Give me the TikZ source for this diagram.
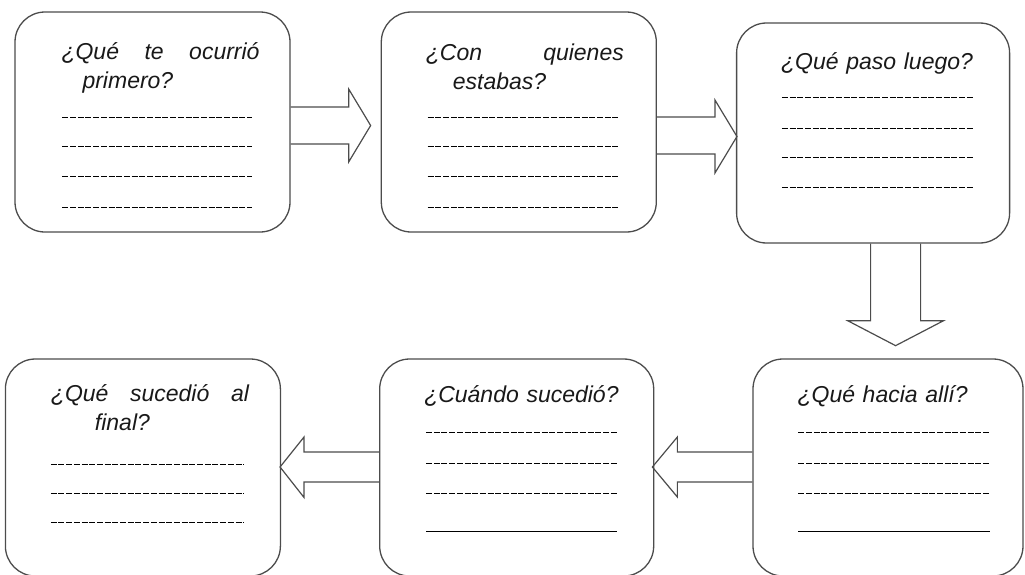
\documentclass[tikz,border=0pt]{standalone}
\usepackage{fontspec}
\setmainfont{Liberation Sans}
\usetikzlibrary{calc,positioning}
\tikzset{
	every node/.style={
		font=\fontsize{23}{29}\selectfont\itshape
	},
	caja/.style={
		shape=rectangle,
		minimum width=275pt,
		minimum height=220pt,
		rounded corners=30pt,
		draw=black!70,
		line width=1.3pt,
		inner sep=0pt
	},
	titulo/.style={
		anchor=base west,
		text width=198pt,
		align=left,
		inner sep=0pt,
		text=black!90
	},
	renglon/.style={
		line width=1.5pt,
		dash pattern=on 6pt off 1.7pt
	},
	linea/.style={line width=1.5pt},
	flecha/.style={
		draw=black!70,
		line width=1.2pt,
		line join=miter
	}
}

\begin{document}
\begin{tikzpicture}[x=1pt,y=-1pt]
	\useasboundingbox (0,0) rectangle (1025,574);
	
	% Fila de arriba
	\node[caja]                         (b1) at (152.5,122)       {};
	\node[caja] [right=90pt of b1]                                  (b2) {};
	\node[caja, minimum width=273pt] [right=79pt of b2, yshift=-11pt] (b3) {};
	
	% Fila de abajo
	\node[caja, minimum width=270pt, minimum height=217pt] (b6) at (888,467.5) {};
	\node[caja, minimum width=274pt, minimum height=217pt] [left=98pt of b6] (b5) {};
	\node[caja, minimum height=217pt] [left=98pt of b5] (b4) {};
	
	% Preguntas
	\node[titulo] (t1) at ($(b1.north west)+(47,48)$) {¿Qué\hfill te\hfill ocurrió\\\hspace*{21pt}primero?};
	\node[titulo] (t2) at ($(b2.north west)+(45,49)$) {¿Con\hfill quienes\\\hspace*{27pt}estabas?};
	\node[titulo] (t3) at ($(b3.north west)+(45,47)$) {¿Qué paso luego?};
	\node[titulo] (t4) at ($(b4.north west)+(46,43)$) {¿Qué\hfill sucedió\hfill al\\\hspace*{44pt}final?};
	\node[titulo] (t5) at ($(b5.north west)+(45,44)$) {¿Cuándo sucedió?};
	\node[titulo] (t6) at ($(b6.north west)+(45,44)$) {¿Qué hacia allí?};
	
	% Renglones
	\foreach \d in {106,135,165,196}
		\draw[renglon] ($(b1.north west)+(48,\d)$) -- ++(190,0);
	\foreach \d in {106,135,165,196}
		\draw[renglon] ($(b2.north west)+(47,\d)$) -- ++(191,0);
	\foreach \d in {75,106,135,165}
		\draw[renglon] ($(b3.north west)+(46,\d)$) -- ++(191,0);
	\foreach \d in {106,135,164}
		\draw[renglon] ($(b4.north west)+(46,\d)$) -- ++(193,0);
	\foreach \d in {74,105,135}
		\draw[renglon] ($(b5.north west)+(47,\d)$) -- ++(191,0);
	\draw[linea] ($(b5.north west)+(47,173)$) -- ++(191,0);
	\foreach \d in {74,105,135}
		\draw[renglon] ($(b6.north west)+(46,\d)$) -- ++(192,0);
	\draw[linea] ($(b6.north west)+(46,173)$) -- ++(192,0);
	
	% Flechas
	\draw[flecha] ($(b1.east)+(0,-15)$) -- ++(58,0) -- ++(0,-18) -- ++(22,36.5)
		-- ++(-22,36.5) -- ++(0,-18) -- ++(-58,0);
	\draw[flecha] ($(b2.east)+(0,-5)$) -- ++(58,0) -- ++(0,-17) -- ++(22,36.5)
		-- ++(-22,36.5) -- ++(0,-19) -- ++(-58,0);
	\draw[flecha] ($(b3.south)+(-2.5,0)$) -- ++(0,77) -- ++(-23,0) -- ++(48,25)
		-- ++(48,-25) -- ++(-23,0) -- ++(0,-77);
	\draw[flecha] ($(b6.west)+(0,-15.5)$) -- ++(-75,0) -- ++(0,-15) -- ++(-25,30)
		-- ++(25,30) -- ++(0,-15) -- ++(75,0);
	\draw[flecha] ($(b5.west)+(0,-15.5)$) -- ++(-75,0) -- ++(0,-15) -- ++(-24,30)
		-- ++(24,30.5) -- ++(0,-15.5) -- ++(75,0);
	
\end{tikzpicture}
\end{document}
